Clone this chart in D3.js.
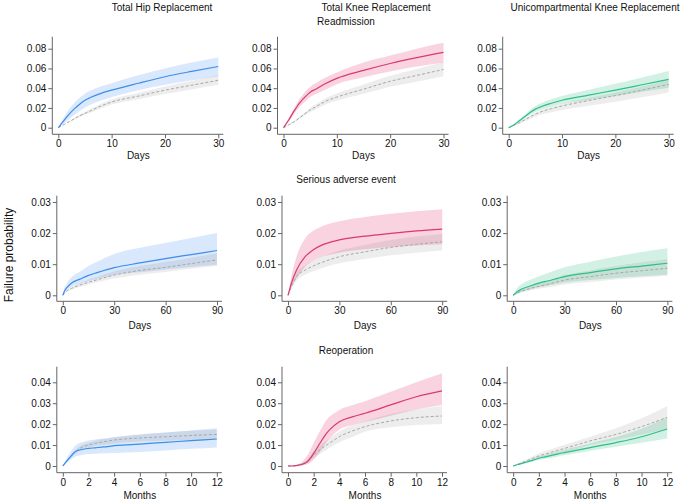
<!DOCTYPE html>
<html>
<head>
<meta charset="utf-8">
<script src="https://cdn.jsdelivr.net/npm/d3@7"></script>
<style>
  body { margin: 0; background: #fff; }
  svg { font-family: "Liberation Sans", Arial, sans-serif; }
</style>
</head>
<body>
<svg id="chart" width="685" height="501"></svg>
<script>
// time grids
var daysReadm = [0, 1, 2, 3, 4, 5, 6, 8, 10, 15, 20, 25, 30];
var daysSae = [0, 1, 2, 5, 10, 15, 20, 30, 45, 60, 75, 90];
var months = [0, 0.25, 0.5, 0.75, 1, 1.5, 2, 2.5, 3, 3.5, 4, 5, 6, 8, 10, 12];

var columns = ["Total Hip Replacement", "Total Knee Replacement", "Unicompartmental Knee Replacement"];
var outcomes = ["Readmission", "Serious adverse event", "Reoperation"];
var xLabels = ["Days", "Days", "Months"];

var xTicksReadm = [0, 10, 20, 30];
var xTicksSae = [0, 30, 60, 90];
var xTicksMonths = [0, 2, 4, 6, 8, 10, 12];
var yTicksReadm = [0, 0.02, 0.04, 0.06, 0.08];
var yTicksSae = [0, 0.01, 0.02, 0.03];
var yTicksReop = [0, 0.01, 0.02, 0.03, 0.04];

// rows: [estimate, lower, upper, comparator, comparator lower, comparator upper]
var thrReadm = [
  [0, 0, 0, 0, 0, 0],
  [0.007, 0.004, 0.010, 0.003, 0.0027, 0.0033],
  [0.0135, 0.0085, 0.0185, 0.006, 0.0054, 0.0066],
  [0.019, 0.013, 0.025, 0.009, 0.008, 0.0099],
  [0.0238, 0.017, 0.0303, 0.012, 0.0108, 0.0132],
  [0.0277, 0.0205, 0.0345, 0.0145, 0.013, 0.016],
  [0.0305, 0.0232, 0.0375, 0.017, 0.0152, 0.0187],
  [0.0348, 0.0275, 0.0417, 0.022, 0.0198, 0.0242],
  [0.038, 0.031, 0.045, 0.026, 0.0234, 0.0286],
  [0.045, 0.038, 0.053, 0.032, 0.0288, 0.0352],
  [0.0516, 0.0435, 0.060, 0.038, 0.0342, 0.0418],
  [0.057, 0.048, 0.066, 0.043, 0.0388, 0.0475],
  [0.062, 0.052, 0.071, 0.048, 0.0435, 0.053]
];
var tkrReadm = [
  [0, 0, 0, 0, 0, 0],
  [0.008, 0.006, 0.010, 0.003, 0.0026, 0.0034],
  [0.017, 0.014, 0.020, 0.006, 0.0053, 0.0068],
  [0.025, 0.021, 0.029, 0.010, 0.0088, 0.0112],
  [0.031, 0.026, 0.036, 0.014, 0.0123, 0.0157],
  [0.036, 0.031, 0.0415, 0.018, 0.0158, 0.0202],
  [0.039, 0.034, 0.045, 0.021, 0.0185, 0.0235],
  [0.045, 0.039, 0.051, 0.027, 0.0238, 0.0302],
  [0.050, 0.044, 0.056, 0.031, 0.0273, 0.0347],
  [0.058, 0.051, 0.066, 0.039, 0.0343, 0.0437],
  [0.065, 0.057, 0.073, 0.047, 0.0414, 0.0526],
  [0.071, 0.062, 0.080, 0.053, 0.0466, 0.0594],
  [0.0763, 0.066, 0.086, 0.059, 0.052, 0.0665]
];
var ukrReadm = [
  [0, 0, 0, 0, 0, 0],
  [0.003, 0.002, 0.0036, 0.0025, 0.002, 0.0028],
  [0.007, 0.0058, 0.0085, 0.005, 0.004, 0.0056],
  [0.011, 0.0093, 0.013, 0.008, 0.0065, 0.0088],
  [0.0153, 0.013, 0.018, 0.011, 0.0089, 0.012],
  [0.0188, 0.016, 0.022, 0.0138, 0.0112, 0.015],
  [0.0212, 0.018, 0.0247, 0.016, 0.013, 0.0175],
  [0.0248, 0.0213, 0.0287, 0.0193, 0.0156, 0.021],
  [0.0278, 0.024, 0.032, 0.022, 0.0178, 0.024],
  [0.033, 0.028, 0.0384, 0.0275, 0.0223, 0.030],
  [0.038, 0.032, 0.0444, 0.0325, 0.0263, 0.0354],
  [0.0435, 0.0363, 0.0508, 0.038, 0.0308, 0.0414],
  [0.049, 0.0405, 0.0574, 0.0439, 0.0357, 0.048]
];
var thrSae = [
  [0, 0, 0, 0, 0, 0],
  [0.0014, 0.0009, 0.0025, 0.0006, 0.0005, 0.0007],
  [0.0022, 0.0015, 0.0035, 0.0012, 0.001, 0.0014],
  [0.0039, 0.0027, 0.0058, 0.0022, 0.0018, 0.0026],
  [0.0052, 0.0037, 0.0076, 0.0033, 0.0027, 0.0039],
  [0.0064, 0.0046, 0.0094, 0.0042, 0.0035, 0.005],
  [0.0073, 0.0053, 0.0108, 0.005, 0.0042, 0.0059],
  [0.0089, 0.0065, 0.0133, 0.0065, 0.0054, 0.0077],
  [0.0104, 0.0074, 0.0153, 0.008, 0.0066, 0.0094],
  [0.0118, 0.0083, 0.0168, 0.009, 0.0075, 0.0107],
  [0.0131, 0.0091, 0.0184, 0.0102, 0.0085, 0.0121],
  [0.0144, 0.0098, 0.020, 0.0114, 0.0094, 0.0135]
];
var tkrSae = [
  [0, 0, 0, 0, 0, 0],
  [0.002, 0.0013, 0.0032, 0.0014, 0.001, 0.0017],
  [0.0039, 0.0026, 0.0061, 0.0028, 0.0021, 0.0034],
  [0.0081, 0.0055, 0.0125, 0.006, 0.0047, 0.0073],
  [0.0124, 0.0092, 0.0183, 0.0081, 0.0066, 0.0096],
  [0.0147, 0.0112, 0.0208, 0.0095, 0.0078, 0.0112],
  [0.0162, 0.0124, 0.0222, 0.0106, 0.0088, 0.0124],
  [0.0178, 0.0137, 0.0238, 0.0124, 0.0103, 0.0144],
  [0.019, 0.0148, 0.0252, 0.014, 0.0117, 0.0162],
  [0.0199, 0.0155, 0.0262, 0.0154, 0.0129, 0.0178],
  [0.0207, 0.016, 0.027, 0.0164, 0.0137, 0.0189],
  [0.0213, 0.0164, 0.0277, 0.0172, 0.0144, 0.0197]
];
var ukrSae = [
  [0, 0, 0, 0, 0, 0],
  [0.0005, 0.0003, 0.0012, 0.0003, 0.0002, 0.0004],
  [0.001, 0.0006, 0.0021, 0.0006, 0.0004, 0.0008],
  [0.002, 0.0012, 0.0036, 0.0013, 0.0009, 0.0017],
  [0.003, 0.0019, 0.005, 0.0022, 0.0016, 0.0029],
  [0.0039, 0.0026, 0.0061, 0.0029, 0.0021, 0.0038],
  [0.0046, 0.0031, 0.0071, 0.0035, 0.0025, 0.0046],
  [0.006, 0.0041, 0.009, 0.0049, 0.0035, 0.0065],
  [0.0073, 0.0049, 0.0108, 0.006, 0.0043, 0.008],
  [0.0085, 0.0056, 0.0125, 0.0071, 0.0051, 0.0094],
  [0.0094, 0.0061, 0.0139, 0.0079, 0.0057, 0.0106],
  [0.0103, 0.0066, 0.0151, 0.0087, 0.0063, 0.0117]
];
var thrReop = [
  [0, 0, 0, 0, 0, 0],
  [0.002, 0.0012, 0.003, 0.0018, 0.0016, 0.002],
  [0.0037, 0.0024, 0.0058, 0.0037, 0.0033, 0.0041],
  [0.0055, 0.0036, 0.008, 0.0055, 0.0048, 0.0062],
  [0.0069, 0.0046, 0.0098, 0.0069, 0.006, 0.0078],
  [0.0079, 0.0053, 0.0114, 0.009, 0.0079, 0.0101],
  [0.0084, 0.0057, 0.0122, 0.010, 0.0088, 0.0112],
  [0.0087, 0.0059, 0.0127, 0.0108, 0.0095, 0.0121],
  [0.009, 0.006, 0.013, 0.0114, 0.01, 0.0128],
  [0.0093, 0.0061, 0.0133, 0.0119, 0.0104, 0.0133],
  [0.0097, 0.0062, 0.0137, 0.0124, 0.0108, 0.0138],
  [0.0101, 0.0064, 0.0143, 0.013, 0.0113, 0.0146],
  [0.0105, 0.0067, 0.0149, 0.0134, 0.0117, 0.0152],
  [0.0113, 0.0074, 0.016, 0.014, 0.0121, 0.016],
  [0.0121, 0.0082, 0.017, 0.0146, 0.0123, 0.0168],
  [0.0129, 0.0089, 0.018, 0.0151, 0.0125, 0.0175]
];
var tkrReop = [
  [0, 0, 0, 0, 0, 0],
  [0, 0, 0.0001, 0, 0, 0.0001],
  [0.0001, 0, 0.0003, 0.0001, 0, 0.0003],
  [0.0003, 0.0001, 0.0007, 0.0004, 0.0002, 0.0007],
  [0.0006, 0.0002, 0.0015, 0.0008, 0.0004, 0.0013],
  [0.002, 0.0008, 0.005, 0.002, 0.0013, 0.003],
  [0.006, 0.003, 0.011, 0.0053, 0.0038, 0.007],
  [0.011, 0.0068, 0.0168, 0.0078, 0.0058, 0.0098],
  [0.0156, 0.0115, 0.022, 0.010, 0.0078, 0.0122],
  [0.0188, 0.0148, 0.0248, 0.012, 0.0096, 0.0144],
  [0.0212, 0.0175, 0.0268, 0.014, 0.0114, 0.0165],
  [0.0235, 0.0195, 0.029, 0.0167, 0.0139, 0.0193],
  [0.0252, 0.021, 0.031, 0.0188, 0.0164, 0.0212],
  [0.0292, 0.024, 0.0355, 0.0215, 0.0185, 0.0248],
  [0.0331, 0.027, 0.040, 0.0231, 0.0196, 0.027],
  [0.0359, 0.0292, 0.0443, 0.0239, 0.0201, 0.0287]
];
var ukrReop = [
  [0, 0, 0, 0, 0, 0],
  [0.0005, 0.0004, 0.0006, 0.0006, 0.0004, 0.0008],
  [0.0009, 0.0007, 0.0011, 0.0012, 0.0008, 0.0016],
  [0.0014, 0.0011, 0.0017, 0.0018, 0.0013, 0.0024],
  [0.0018, 0.0014, 0.0022, 0.0024, 0.0017, 0.0031],
  [0.0027, 0.0021, 0.0033, 0.0036, 0.0026, 0.0046],
  [0.0037, 0.0029, 0.0045, 0.0048, 0.0036, 0.006],
  [0.0044, 0.0035, 0.0054, 0.0057, 0.0044, 0.0071],
  [0.0051, 0.004, 0.0062, 0.0066, 0.0051, 0.0081],
  [0.0058, 0.0046, 0.0071, 0.0075, 0.0058, 0.0092],
  [0.0064, 0.0051, 0.0078, 0.0084, 0.0066, 0.0102],
  [0.0076, 0.0062, 0.0093, 0.0102, 0.0083, 0.0121],
  [0.0088, 0.0073, 0.0108, 0.012, 0.010, 0.014],
  [0.0112, 0.0092, 0.0138, 0.0151, 0.0124, 0.018],
  [0.014, 0.0111, 0.0178, 0.0188, 0.015, 0.0228],
  [0.0177, 0.0132, 0.0233, 0.0233, 0.0178, 0.0287]
];

var colors = [
  { line: "#3d8ee8", band: "#d9e8fc" },
  { line: "#d93a6e", band: "#f9d3e0" },
  { line: "#2dbf8a", band: "#d2f1e4" }
];

var rows = [
  { t: daysReadm, xMax: 30, xTicks: xTicksReadm, yTicks: yTicksReadm, yTickMax: 0.08,
    panels: [thrReadm, tkrReadm, ukrReadm],
    yZero: 127.7, yTickPix: 48.7, axisTop: 36.7, xAxisY: 134.3, x0: 58.3, w: 160, labelY: 155.7, titleY: 21 },
  { t: daysSae, xMax: 90, xTicks: xTicksSae, yTicks: yTicksSae, yTickMax: 0.03,
    panels: [thrSae, tkrSae, ukrSae],
    yZero: 295.3, yTickPix: 202, axisTop: 195.7, xAxisY: 301.3, x0: 62.8, w: 154.2, labelY: 325, titleY: 179.5 },
  { t: months, xMax: 12, xTicks: xTicksMonths, yTicks: yTicksReop, yTickMax: 0.04,
    panels: [thrReop, tkrReop, ukrReop],
    yZero: 466, yTickPix: 382.3, axisTop: 366.7, xAxisY: 472.7, x0: 62.8, w: 154, labelY: 495.7, titleY: 350 }
];

var colStep = 225.2;
var svg = d3.select("#chart");
var axisColor = "#666";

// column titles
var colTitleX = [162, 376, 595];
svg.selectAll(".coltitle").data(columns).enter().append("text")
  .attr("x", function (d, i) { return colTitleX[i]; })
  .attr("y", 7)
  .attr("dy", "0.35em")
  .attr("text-anchor", "middle")
  .attr("font-size", 10)
  .attr("fill", "#111")
  .text(function (d) { return d; });

svg.append("text")
  .attr("transform", "translate(8.5,255) rotate(-90)")
  .attr("dy", "0.35em")
  .attr("text-anchor", "middle")
  .attr("font-size", 12)
  .attr("fill", "#111")
  .text("Failure probability");

rows.forEach(function (row, r) {
  svg.append("text")
    .attr("x", 346)
    .attr("y", row.titleY)
    .attr("dy", "0.35em")
    .attr("text-anchor", "middle")
    .attr("font-size", 10)
    .attr("fill", "#111")
    .text(outcomes[r]);

  row.panels.forEach(function (data, c) {
    var left = row.x0 + colStep * c;
    var x = d3.scaleLinear().domain([0, row.xMax]).range([left, left + row.w]);
    var y = d3.scaleLinear().domain([0, row.yTickMax]).range([row.yZero, row.yTickPix]);
    var axisX = left - 6;
    var g = svg.append("g");
    var pts = data.map(function (d, i) { return { t: row.t[i], v: d }; });

    var band = function (lo, hi) {
      return d3.area()
        .x(function (d) { return x(d.t); })
        .y0(function (d) { return y(d.v[lo]); })
        .y1(function (d) { return y(d.v[hi]); })
        .curve(d3.curveMonotoneX);
    };
    var line = function (k) {
      return d3.line()
        .x(function (d) { return x(d.t); })
        .y(function (d) { return y(d.v[k]); })
        .curve(d3.curveMonotoneX);
    };

    g.append("path").datum(pts)
      .attr("fill", colors[c].band)
      .attr("d", band(1, 2));
    g.append("path").datum(pts)
      .attr("fill", "rgb(110,110,110)")
      .attr("fill-opacity", 0.12)
      .attr("d", band(4, 5));
    g.append("path").datum(pts)
      .attr("fill", "none")
      .attr("stroke", "#a8a8a8")
      .attr("stroke-width", 1)
      .attr("stroke-dasharray", "3,2")
      .attr("d", line(3));
    g.append("path").datum(pts)
      .attr("fill", "none")
      .attr("stroke", colors[c].line)
      .attr("stroke-width", 1.2)
      .attr("d", line(0));

    // y axis
    var yAxis = g.append("g")
      .attr("transform", "translate(" + axisX + ",0)")
      .call(d3.axisLeft(y).tickValues(row.yTicks).tickSize(4).tickPadding(2)
        .tickFormat(function (d) { return d === 0 ? "0" : String(+d.toFixed(3)); }));
    yAxis.select(".domain").remove();
    yAxis.selectAll(".tick line").attr("stroke", axisColor);
    yAxis.selectAll(".tick text").attr("font-size", 10).attr("fill", "#111")
      .attr("font-family", "Liberation Sans, Arial, sans-serif");
    g.append("line")
      .attr("x1", axisX).attr("x2", axisX)
      .attr("y1", row.axisTop).attr("y2", row.xAxisY)
      .attr("stroke", axisColor);

    // x axis
    var xAxis = g.append("g")
      .attr("transform", "translate(0," + row.xAxisY + ")")
      .call(d3.axisBottom(x).tickValues(row.xTicks).tickSize(4).tickPadding(2));
    xAxis.select(".domain").remove();
    xAxis.selectAll(".tick line").attr("stroke", axisColor);
    xAxis.selectAll(".tick text").attr("font-size", 10).attr("fill", "#111")
      .attr("font-family", "Liberation Sans, Arial, sans-serif");
    g.append("line")
      .attr("x1", axisX).attr("x2", left + row.w + 5)
      .attr("y1", row.xAxisY).attr("y2", row.xAxisY)
      .attr("stroke", axisColor);

    g.append("text")
      .attr("x", left + row.w / 2)
      .attr("y", row.labelY)
      .attr("dy", "0.35em")
      .attr("text-anchor", "middle")
      .attr("font-size", 10)
      .attr("fill", "#111")
      .text(xLabels[r]);
  });
});
</script>
</body>
</html>
